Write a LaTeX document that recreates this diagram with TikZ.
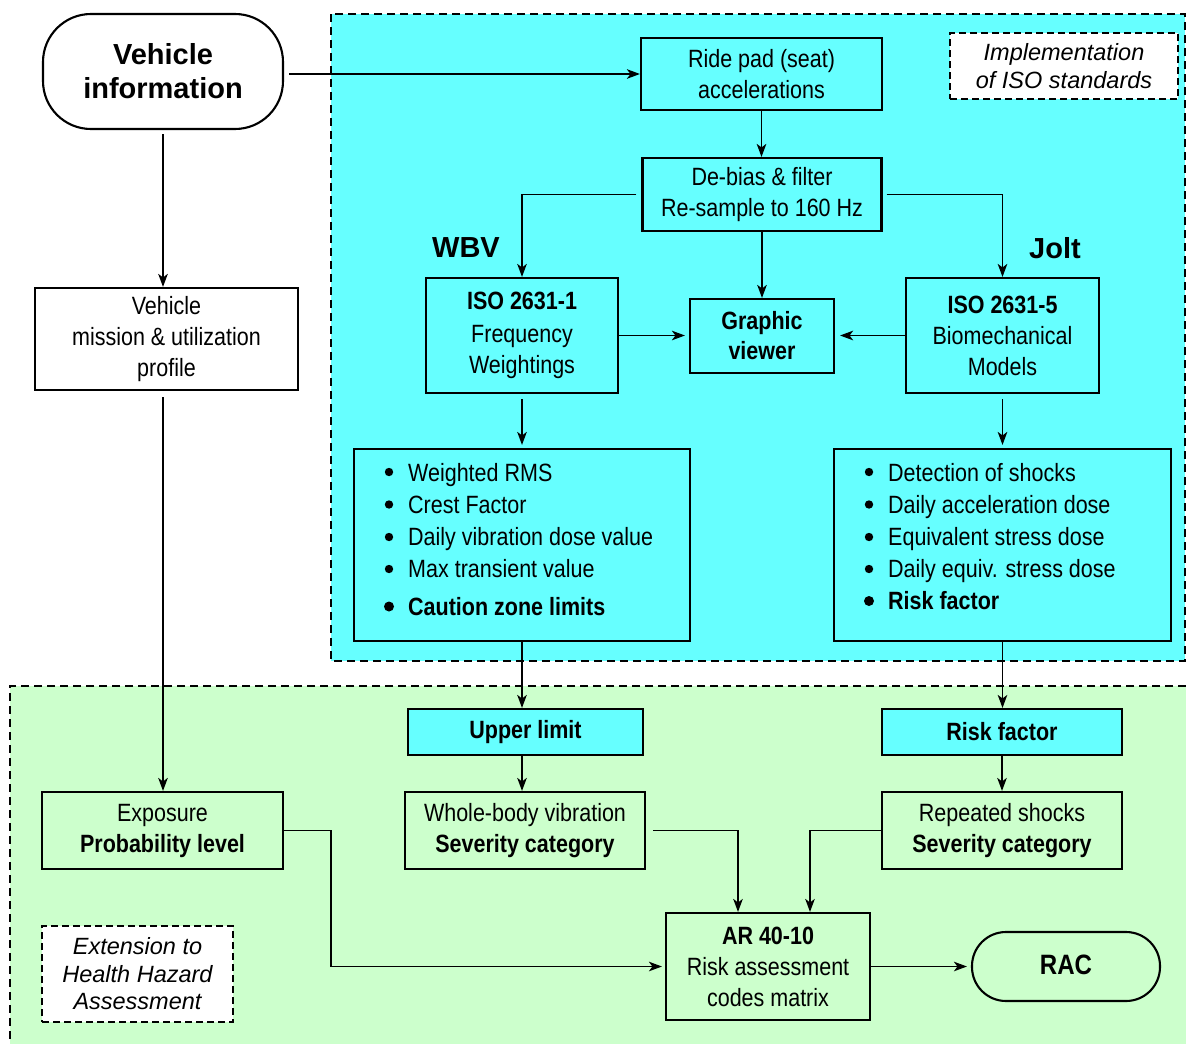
\documentclass[tikz,border=0pt]{standalone}
\usepackage{fontspec}
\setmainfont{Liberation Sans}[FakeStretch=0.86]
\newfontfamily\widefont{Liberation Sans}
\usetikzlibrary{arrows.meta}
\definecolor{cyanbg}{RGB}{102,255,255}
\definecolor{greenbg}{RGB}{204,255,204}
\newcommand\bulit{\hspace*{23pt}}
\begin{document}
\begin{tikzpicture}[x=1pt,y=-1pt,
  every node/.style={font=\fontsize{25}{31}\selectfont, inner sep=0pt},
  box/.style={draw, line width=2.1pt, align=center},
  cbox/.style={box, fill=cyanbg},
  title/.style={font=\widefont\bfseries\fontsize{29}{34}\selectfont, align=center},
  note/.style={draw, dash pattern=on 7pt off 4pt, line width=1.8pt, fill=white, align=center,
    font=\widefont\itshape\fontsize{23.5}{27.5}\selectfont},
  region/.style={line width=1.8pt, dash pattern=on 8pt off 5pt},
  arr/.style={line width=1.9pt, -{Stealth[length=13pt,width=9.5pt,inset=3.5pt]}},
  lst/.style={anchor=north west, align=left, font=\fontsize{25}{32}\selectfont}
]
\useasboundingbox (0,0) rectangle (1186,1044);
% regions
\fill[cyanbg] (331,14) rectangle (1185,661);
\draw[region] (331,14) rectangle (1185,661);
\fill[greenbg] (10,686) rectangle (1186,1044);
\draw[region] (1186,686) -- (10,686) -- (10,1046);

% top nodes
\node[box, rounded corners=48pt, minimum width=240pt, minimum height=115pt, title] (vinfo) at (163,71.5) {\raisebox{-2pt}{Vehicle}\\\raisebox{-2pt}{information}};
\node[box, minimum width=241pt, minimum height=72pt] (ridepad) at (761.5,74) {Ride pad (seat)\\accelerations};
\node[note, minimum width=228pt, minimum height=66pt] (impl) at (1064,66) {Implementation\\of ISO standards};
\node[box, minimum width=239pt, minimum height=73pt] (debias) at (762,194.5) {De-bias \& filter\\Re-sample to 160 Hz};
\node[title] (wbv) at (466,248) {WBV};
\node[title] (jolt) at (1055,248) {Jolt};
\node[box, minimum width=192pt, minimum height=115pt] (iso1) at (522,335.5) {\raisebox{2pt}{\textbf{ISO 2631-1}}\\Frequency\\Weightings};
\node[box, minimum width=144pt, minimum height=74pt, font=\bfseries\fontsize{25}{30}\selectfont] (graphic) at (762,336) {Graphic\\viewer};
\node[box, minimum width=193pt, minimum height=115pt] (iso5) at (1002.5,335.5) {\textbf{ISO 2631-5}\\Biomechanical\\Models};
\node[box, minimum width=263pt, minimum height=102pt] (vmission) at (166.5,339) {\raisebox{-3pt}{Vehicle}\\\raisebox{-3pt}{mission \& utilization}\\\raisebox{-3pt}{profile}};

\node[box, minimum width=336pt, minimum height=192pt] (wbvlist) at (522,545) {};
\node[lst] (wbvtext) at (385,463) {\bulit Weighted RMS\\ \bulit Crest Factor\\ \bulit Daily vibration dose value\\ \bulit Max transient value\\[6pt] \bulit\textbf{Caution zone limits}};
\node[box, minimum width=337pt, minimum height=192pt] (joltlist) at (1002.5,545) {};
\node[lst] (jolttext) at (865,463) {\bulit Detection of shocks\\ \bulit Daily acceleration dose\\ \bulit Equivalent stress dose\\ \bulit Daily equiv. stress dose\\ \bulit\textbf{Risk factor}};
% bullets
\foreach \yy in {472,504.5,537,569} {
  \fill (389,\yy) circle (4.2pt);
  \fill (869,\yy) circle (4.2pt);
}
\fill (389,606.5) circle (5pt);
\fill (869,601) circle (5pt);

% bottom nodes
\node[cbox, minimum width=235pt, minimum height=46pt, font=\bfseries\fontsize{25}{31}\selectfont] (upper) at (525.5,732) {Upper limit};
\node[cbox, minimum width=240pt, minimum height=46pt, font=\bfseries\fontsize{25}{31}\selectfont] (riskf) at (1002,732) {Risk factor};
\node[box, minimum width=241pt, minimum height=77pt] (exposure) at (162.5,830.5) {Exposure\\\textbf{Probability level}};
\node[box, minimum width=240pt, minimum height=77pt] (wbvsev) at (525,830.5) {Whole-body vibration\\\textbf{Severity category}};
\node[box, minimum width=240pt, minimum height=77pt] (rssev) at (1002,830.5) {Repeated shocks\\\textbf{Severity category}};
\node[box, minimum width=204pt, minimum height=107pt] (ar) at (768,966.5) {\textbf{AR 40-10}\\Risk assessment\\codes matrix};
\node[box, rounded corners=34pt, minimum width=188pt, minimum height=69pt, font=\bfseries\fontsize{28}{34}\selectfont] (rac) at (1066,966.5) {\raisebox{4pt}{RAC}};
\node[note, minimum width=191pt, minimum height=96pt] (ext) at (137.5,974) {Extension to\\Health Hazard\\Assessment};

% connectors
\draw[arr, shorten <=5pt] (vinfo.east |- ridepad.west) -- (ridepad.west);
\draw[arr] (ridepad.south) -- (ridepad.south |- debias.north);
\draw[arr, shorten <=5pt] (debias.west) -| (iso1.north);
\draw[arr, shorten <=4pt] (debias.east) -| (iso5.north);
\draw[arr] (debias.south) -- (debias.south |- graphic.north);
\draw[arr, shorten >=4pt] (iso1.east) -- (iso1.east -| graphic.west);
\draw[arr, shorten >=5pt] (iso5.west) -- (iso5.west -| graphic.east);
\draw[arr, shorten <=5pt, shorten >=3pt] (iso1.south) -- (wbvlist.north);
\draw[arr, shorten <=5pt, shorten >=3pt] (iso5.south) -- (joltlist.north);
\draw[arr] (wbvlist.south) -- (wbvlist.south |- upper.north);
\draw[arr] (joltlist.south) -- (joltlist.south |- riskf.north);
\draw[arr, shorten <=4pt] (vinfo.south) -- (vinfo.south |- vmission.north);
\draw[arr, shorten <=6pt] (vinfo.south |- vmission.south) -- (vinfo.south |- exposure.north);
\draw[arr] (wbvlist.south |- upper.south) -- (wbvlist.south |- wbvsev.north);
\draw[arr] (riskf.south) -- (riskf.south |- rssev.north);
\draw[arr, shorten >=3pt] (exposure.east) -- ++(47,0) |- (ar.west);
\draw[arr, shorten <=7pt] (wbvsev.east) -| ([xshift=-30pt]ar.north);
\draw[arr] (rssev.west) -| ([xshift=42pt]ar.north);
\draw[arr, shorten >=4pt] (ar.east) -- (rac.west);
\end{tikzpicture}
\end{document}
